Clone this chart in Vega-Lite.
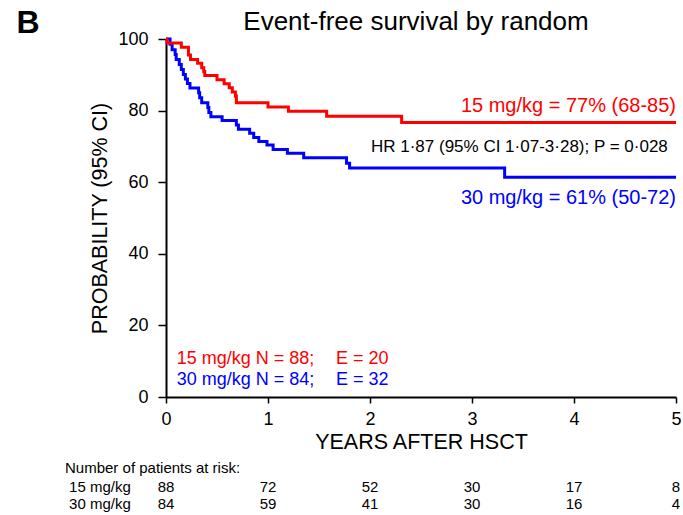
{
  "$schema": "https://vega.github.io/schema/vega-lite/v6.json",
  "width": 510,
  "height": 358,
  "autosize": {"type": "none"},
  "padding": {"left": 166, "top": 39, "right": 7, "bottom": 118},
  "background": "white",
  "config": {"view": {"stroke": null}, "font": "Liberation Sans", "text": {"font": "Liberation Sans"}},
  "datasets": {
    "curves": [
      {"arm": "30 mg/kg", "t": 0, "s": 100},
      {"arm": "30 mg/kg", "t": 0.04, "s": 98.5},
      {"arm": "30 mg/kg", "t": 0.06, "s": 97.0},
      {"arm": "30 mg/kg", "t": 0.09, "s": 95.7},
      {"arm": "30 mg/kg", "t": 0.10, "s": 94.3},
      {"arm": "30 mg/kg", "t": 0.13, "s": 92.9},
      {"arm": "30 mg/kg", "t": 0.15, "s": 91.5},
      {"arm": "30 mg/kg", "t": 0.17, "s": 90.1},
      {"arm": "30 mg/kg", "t": 0.19, "s": 88.8},
      {"arm": "30 mg/kg", "t": 0.21, "s": 87.6},
      {"arm": "30 mg/kg", "t": 0.235, "s": 86.3},
      {"arm": "30 mg/kg", "t": 0.32, "s": 85.0},
      {"arm": "30 mg/kg", "t": 0.33, "s": 83.6},
      {"arm": "30 mg/kg", "t": 0.35, "s": 82.2},
      {"arm": "30 mg/kg", "t": 0.41, "s": 80.9},
      {"arm": "30 mg/kg", "t": 0.42, "s": 79.5},
      {"arm": "30 mg/kg", "t": 0.44, "s": 78.3},
      {"arm": "30 mg/kg", "t": 0.55, "s": 77.2},
      {"arm": "30 mg/kg", "t": 0.69, "s": 76.0},
      {"arm": "30 mg/kg", "t": 0.71, "s": 74.8},
      {"arm": "30 mg/kg", "t": 0.82, "s": 73.7},
      {"arm": "30 mg/kg", "t": 0.86, "s": 72.5},
      {"arm": "30 mg/kg", "t": 0.91, "s": 71.4},
      {"arm": "30 mg/kg", "t": 0.99, "s": 70.4},
      {"arm": "30 mg/kg", "t": 1.05, "s": 69.1},
      {"arm": "30 mg/kg", "t": 1.19, "s": 68.1},
      {"arm": "30 mg/kg", "t": 1.35, "s": 66.8},
      {"arm": "30 mg/kg", "t": 1.77, "s": 65.3},
      {"arm": "30 mg/kg", "t": 1.80, "s": 64.0},
      {"arm": "30 mg/kg", "t": 3.32, "s": 61.4},
      {"arm": "30 mg/kg", "t": 5.0, "s": 61.4},
      {"arm": "15 mg/kg", "t": 0, "s": 100},
      {"arm": "15 mg/kg", "t": 0.01, "s": 98.9},
      {"arm": "15 mg/kg", "t": 0.15, "s": 97.7},
      {"arm": "15 mg/kg", "t": 0.22, "s": 95.5},
      {"arm": "15 mg/kg", "t": 0.24, "s": 94.3},
      {"arm": "15 mg/kg", "t": 0.31, "s": 93.2},
      {"arm": "15 mg/kg", "t": 0.35, "s": 92.0},
      {"arm": "15 mg/kg", "t": 0.37, "s": 90.9},
      {"arm": "15 mg/kg", "t": 0.38, "s": 89.8},
      {"arm": "15 mg/kg", "t": 0.50, "s": 88.6},
      {"arm": "15 mg/kg", "t": 0.57, "s": 87.5},
      {"arm": "15 mg/kg", "t": 0.62, "s": 86.4},
      {"arm": "15 mg/kg", "t": 0.65, "s": 85.2},
      {"arm": "15 mg/kg", "t": 0.68, "s": 84.1},
      {"arm": "15 mg/kg", "t": 0.69, "s": 82.2},
      {"arm": "15 mg/kg", "t": 1.00, "s": 81.0},
      {"arm": "15 mg/kg", "t": 1.20, "s": 79.8},
      {"arm": "15 mg/kg", "t": 1.575, "s": 78.4},
      {"arm": "15 mg/kg", "t": 2.31, "s": 76.7},
      {"arm": "15 mg/kg", "t": 5.0, "s": 76.7}
    ],
    "risk": [
      {"arm": "15 mg/kg", "year": 0, "n": "88"},
      {"arm": "15 mg/kg", "year": 1, "n": "72"},
      {"arm": "15 mg/kg", "year": 2, "n": "52"},
      {"arm": "15 mg/kg", "year": 3, "n": "30"},
      {"arm": "15 mg/kg", "year": 4, "n": "17"},
      {"arm": "15 mg/kg", "year": 5, "n": "8"},
      {"arm": "30 mg/kg", "year": 0, "n": "84"},
      {"arm": "30 mg/kg", "year": 1, "n": "59"},
      {"arm": "30 mg/kg", "year": 2, "n": "41"},
      {"arm": "30 mg/kg", "year": 3, "n": "30"},
      {"arm": "30 mg/kg", "year": 4, "n": "16"},
      {"arm": "30 mg/kg", "year": 5, "n": "4"}
    ]
  },
  "layer": [
    {
      "data": {"name": "curves"},
      "mark": {"type": "line", "interpolate": "step-after", "strokeWidth": 3},
      "encoding": {
        "x": {"field": "t", "type": "quantitative", "scale": {"domain": [0, 5], "nice": false},
          "axis": {"values": [0, 1, 2, 3, 4, 5], "format": "d", "title": "YEARS AFTER HSCT", "titleFontSize": 21.5, "titleFontWeight": "normal", "titleColor": "black", "titlePadding": 3,
            "labelFontSize": 18, "labelColor": "black", "labelPadding": 7, "tickSize": 6, "tickWidth": 1.5, "tickColor": "black", "domainColor": "black", "domainWidth": 2, "grid": false, "labelFlush": false}},
        "y": {"field": "s", "type": "quantitative", "scale": {"domain": [0, 100], "nice": false},
          "axis": {"values": [0, 5, 10, 15, 20, 25, 30, 35, 40, 45, 50, 55, 60, 65, 70, 75, 80, 85, 90, 95, 100], "labelExpr": "datum.value % 20 === 0 ? datum.label : ''",
            "title": "PROBABILITY (95% CI)", "titleFontSize": 21.5, "titleFontWeight": "normal", "titleColor": "black", "titlePadding": 6,
            "labelFontSize": 18, "labelColor": "black", "labelPadding": 10, "tickSize": 8, "tickWidth": 1.5, "tickColor": "black", "domainColor": "black", "domainWidth": 2, "grid": false, "labelFlush": false}},
        "color": {"field": "arm", "type": "nominal", "scale": {"domain": ["30 mg/kg", "15 mg/kg"], "range": ["#0000ff", "#ff0000"]}, "legend": null}
      }
    },
    {
      "data": {"values": [{}]},
      "mark": {"type": "text", "align": "center", "baseline": "alphabetic", "fontSize": 26, "color": "black"},
      "encoding": {"x": {"datum": 2.451}, "y": {"datum": 102.5}, "text": {"value": "Event-free survival by random"}}
    },
    {
      "data": {"values": [{}]},
      "mark": {"type": "text", "align": "right", "baseline": "middle", "fontSize": 20, "color": "#ff0000"},
      "encoding": {"x": {"datum": 5}, "y": {"datum": 81.3}, "text": {"value": "15 mg/kg = 77% (68-85)"}}
    },
    {
      "data": {"values": [{}]},
      "mark": {"type": "text", "align": "right", "baseline": "middle", "fontSize": 17, "color": "black"},
      "encoding": {"x": {"datum": 4.92}, "y": {"datum": 69.9}, "text": {"value": "HR 1·87 (95% CI 1·07-3·28); P = 0·028"}}
    },
    {
      "data": {"values": [{}]},
      "mark": {"type": "text", "align": "right", "baseline": "middle", "fontSize": 20, "color": "#0000ff"},
      "encoding": {"x": {"datum": 5}, "y": {"datum": 55.7}, "text": {"value": "30 mg/kg = 61% (50-72)"}}
    },
    {
      "data": {"values": [{}]},
      "mark": {"type": "text", "align": "left", "baseline": "middle", "fontSize": 18, "color": "#ff0000"},
      "encoding": {"x": {"datum": 0.105}, "y": {"datum": 10.7}, "text": {"value": "15 mg/kg N = 88;"}}
    },
    {
      "data": {"values": [{}]},
      "mark": {"type": "text", "align": "left", "baseline": "middle", "fontSize": 18, "color": "#ff0000"},
      "encoding": {"x": {"datum": 1.667}, "y": {"datum": 10.7}, "text": {"value": "E = 20"}}
    },
    {
      "data": {"values": [{}]},
      "mark": {"type": "text", "align": "left", "baseline": "middle", "fontSize": 18, "color": "#0000ff"},
      "encoding": {"x": {"datum": 0.105}, "y": {"datum": 4.7}, "text": {"value": "30 mg/kg N = 84;"}}
    },
    {
      "data": {"values": [{}]},
      "mark": {"type": "text", "align": "left", "baseline": "middle", "fontSize": 18, "color": "#0000ff"},
      "encoding": {"x": {"datum": 1.667}, "y": {"datum": 4.7}, "text": {"value": "E = 32"}}
    },
    {
      "data": {"values": [{}]},
      "mark": {"type": "text", "align": "center", "baseline": "middle", "fontSize": 32, "fontWeight": "bold", "color": "black"},
      "encoding": {"x": {"datum": -1.353}, "y": {"datum": 104.5}, "text": {"value": "B"}}
    },
    {
      "data": {"values": [{}]},
      "mark": {"type": "text", "align": "left", "baseline": "middle", "fontSize": 15, "color": "black"},
      "encoding": {"x": {"datum": -0.99}, "y": {"datum": -19.75}, "text": {"value": "Number of patients at risk:"}}
    },
    {
      "data": {"values": [{}]},
      "mark": {"type": "text", "align": "left", "baseline": "middle", "fontSize": 15, "color": "black"},
      "encoding": {"x": {"datum": -0.95}, "y": {"datum": -25.05}, "text": {"value": "15 mg/kg"}}
    },
    {
      "data": {"values": [{}]},
      "mark": {"type": "text", "align": "left", "baseline": "middle", "fontSize": 15, "color": "black"},
      "encoding": {"x": {"datum": -0.95}, "y": {"datum": -29.9}, "text": {"value": "30 mg/kg"}}
    },
    {
      "data": {"name": "risk"},
      "transform": [{"filter": "datum.arm === '15 mg/kg'"}],
      "mark": {"type": "text", "align": "center", "baseline": "middle", "fontSize": 15, "color": "black"},
      "encoding": {"x": {"field": "year", "type": "quantitative"}, "y": {"datum": -25.05}, "text": {"field": "n"}}
    },
    {
      "data": {"name": "risk"},
      "transform": [{"filter": "datum.arm === '30 mg/kg'"}],
      "mark": {"type": "text", "align": "center", "baseline": "middle", "fontSize": 15, "color": "black"},
      "encoding": {"x": {"field": "year", "type": "quantitative"}, "y": {"datum": -29.9}, "text": {"field": "n"}}
    }
  ]
}
